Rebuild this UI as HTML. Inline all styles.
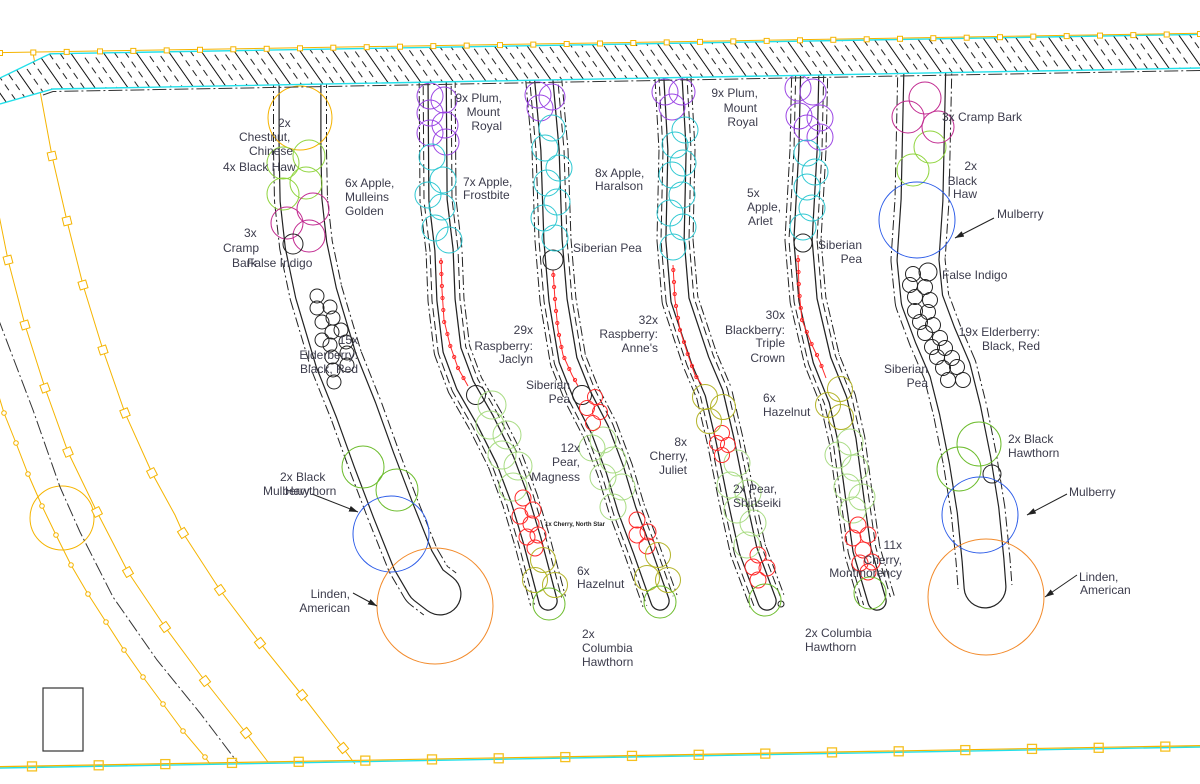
<!DOCTYPE html>
<html><head><meta charset="utf-8">
<style>
html,body{margin:0;padding:0;background:#fff;}
svg{display:block;}
text{font-family:"Liberation Sans",sans-serif;font-size:12px;fill:#3c3c4c;}
</style></head><body>
<svg width="1200" height="784" viewBox="0 0 1200 784" xmlns="http://www.w3.org/2000/svg">
<defs>
<pattern id="hatch" width="27" height="24" patternUnits="userSpaceOnUse" patternTransform="rotate(-35)">
<line x1="0.5" y1="0" x2="0.5" y2="24" stroke="#111" stroke-width="1"/>
<line x1="9.5" y1="0" x2="9.5" y2="24" stroke="#222" stroke-width="1" stroke-dasharray="7 5"/>
<line x1="18.5" y1="6" x2="18.5" y2="30" stroke="#222" stroke-width="1" stroke-dasharray="7 5"/>
<line x1="18.5" y1="-18" x2="18.5" y2="6" stroke="#222" stroke-width="1" stroke-dasharray="7 5"/>
</pattern>
<marker id="ah" markerWidth="9" markerHeight="6" refX="9" refY="3" orient="auto" markerUnits="userSpaceOnUse"><path d="M0,0 L9,3 L0,6 z" fill="#222"/></marker>
<clipPath id="below"><polygon points="0,104 53,89 1200,68 1200,784 0,784"/></clipPath>
<path id="b1" d="M300,60 L300,150 L301,200 L306,245 L316,293 L336,360 L356,410 L374,460 L393,510 L413,560 L427,584 L440,594"/>
<path id="b2" d="M437,60 L438,200 L444,250 L446,300 L452,350 L465,385 L485,420 L505,460 L520,500 L532,540 L548,601"/>
<path id="b3" d="M542,60 L550,150 L553,240 L558,300 L568,360 L582,395 L600,430 L615,470 L627,510 L642,550 L660,601"/>
<path id="b4" d="M672,60 L677,150 L675,240 L680,300 L700,360 L714,393 L725,440 L737,500 L748,550 L767,601"/>
<path id="b5" d="M810,60 L808,150 L803,240 L808,300 L822,360 L838,400 L847,440 L855,500 L862,550 L877,601"/>
<path id="b6" d="M925,60 L922,200 L918,260 L922,300 L935,335 L950,370 L960,410 L970,460 L978,510 L983,560 L985,587"/>
</defs>
<rect width="1200" height="784" fill="#fff"/>

<!-- left yellow lines -->
<g fill="none" stroke="#f5b400" stroke-width="1">
<path d="M33,53 L52,156 L67,221 L83,285 L103,350 L125,413 L152,473 L175,515 L183,533 L220,590 L260,643 L302,695 L343,748 L355,764"/>
<path d="M-5,195 L8,260 L25,325 L45,388 L68,452 L97,512 L128,572 L165,627 L205,681 L246,733 L268,762"/>
<path d="M-3,390 L4,413 L16,443 L28,474 L42,506 L56,535 L71,565 L88,594 L106,622 L124,650 L143,677 L163,704 L183,731 L205,757 L210,764"/>
<circle cx="62" cy="518" r="32"/>
</g>
<path d="M-2,318 L33,410 L60,487 L80,532 L113,597 L157,660 L200,713 L238,763" fill="none" stroke="#333" stroke-width="1" stroke-dasharray="14 3 2 3"/>
<g fill="#fff" stroke="#f5b400" stroke-width="1">
<rect x="48" y="152" width="8" height="8" transform="rotate(77 52 156)"/>
<rect x="63" y="217" width="8" height="8" transform="rotate(76 67 221)"/>
<rect x="79" y="281" width="8" height="8" transform="rotate(73 83 285)"/>
<rect x="99" y="346" width="8" height="8" transform="rotate(72 103 350)"/>
<rect x="121" y="409" width="8" height="8" transform="rotate(68 125 413)"/>
<rect x="148" y="469" width="8" height="8" transform="rotate(63 152 473)"/>
<rect x="179" y="529" width="8" height="8" transform="rotate(58 183 533)"/>
<rect x="216" y="586" width="8" height="8" transform="rotate(55 220 590)"/>
<rect x="256" y="639" width="8" height="8" transform="rotate(52 260 643)"/>
<rect x="298" y="691" width="8" height="8" transform="rotate(51 302 695)"/>
<rect x="339" y="744" width="8" height="8" transform="rotate(51 343 748)"/>
<rect x="4" y="256" width="8" height="8" transform="rotate(75 8 260)"/>
<rect x="21" y="321" width="8" height="8" transform="rotate(73 25 325)"/>
<rect x="41" y="384" width="8" height="8" transform="rotate(70 45 388)"/>
<rect x="64" y="448" width="8" height="8" transform="rotate(67 68 452)"/>
<rect x="93" y="508" width="8" height="8" transform="rotate(63 97 512)"/>
<rect x="124" y="568" width="8" height="8" transform="rotate(60 128 572)"/>
<rect x="161" y="623" width="8" height="8" transform="rotate(55 165 627)"/>
<rect x="201" y="677" width="8" height="8" transform="rotate(53 205 681)"/>
<rect x="242" y="729" width="8" height="8" transform="rotate(52 246 733)"/>
<circle cx="4" cy="413" r="2.3"/><circle cx="16" cy="443" r="2.3"/><circle cx="28" cy="474" r="2.3"/><circle cx="42" cy="506" r="2.3"/><circle cx="56" cy="535" r="2.3"/><circle cx="71" cy="565" r="2.3"/><circle cx="88" cy="594" r="2.3"/><circle cx="106" cy="622" r="2.3"/><circle cx="124" cy="650" r="2.3"/><circle cx="143" cy="677" r="2.3"/><circle cx="163" cy="704" r="2.3"/><circle cx="183" cy="731" r="2.3"/><circle cx="205" cy="757" r="2.3"/>
</g>
<rect x="43" y="688" width="40" height="63" fill="none" stroke="#333" stroke-width="1.2"/>

<!-- beds -->
<g clip-path="url(#below)" fill="none" stroke-linejoin="round">
<use href="#b1" stroke="#222" stroke-width="54" stroke-dasharray="10 3 2 3"/>
<use href="#b1" stroke="#fff" stroke-width="52" stroke-linecap="round"/>
<use href="#b1" stroke="#222" stroke-width="43" stroke-linecap="round"/>
<use href="#b1" stroke="#fff" stroke-width="40.6" stroke-linecap="round"/>
<use href="#b6" stroke="#222" stroke-width="55" stroke-dasharray="10 3 2 3"/>
<use href="#b6" stroke="#fff" stroke-width="53" stroke-linecap="round"/>
<use href="#b6" stroke="#222" stroke-width="43" stroke-linecap="round"/>
<use href="#b6" stroke="#fff" stroke-width="40.6" stroke-linecap="round"/>
<use href="#b2" stroke="#222" stroke-width="37" stroke-dasharray="10 3 2 3"/>
<use href="#b2" stroke="#fff" stroke-width="35" stroke-linecap="round"/>
<use href="#b2" stroke="#222" stroke-width="29" stroke-dasharray="9 4"/>
<use href="#b2" stroke="#fff" stroke-width="27" stroke-linecap="round"/>
<use href="#b2" stroke="#222" stroke-width="19.5" stroke-linecap="round"/>
<use href="#b2" stroke="#fff" stroke-width="17" stroke-linecap="round"/>
<use href="#b3" stroke="#222" stroke-width="37" stroke-dasharray="10 3 2 3"/>
<use href="#b3" stroke="#fff" stroke-width="35" stroke-linecap="round"/>
<use href="#b3" stroke="#222" stroke-width="29" stroke-dasharray="9 4"/>
<use href="#b3" stroke="#fff" stroke-width="27" stroke-linecap="round"/>
<use href="#b3" stroke="#222" stroke-width="19.5" stroke-linecap="round"/>
<use href="#b3" stroke="#fff" stroke-width="17" stroke-linecap="round"/>
<use href="#b4" stroke="#222" stroke-width="37" stroke-dasharray="10 3 2 3"/>
<use href="#b4" stroke="#fff" stroke-width="35" stroke-linecap="round"/>
<use href="#b4" stroke="#222" stroke-width="29" stroke-dasharray="9 4"/>
<use href="#b4" stroke="#fff" stroke-width="27" stroke-linecap="round"/>
<use href="#b4" stroke="#222" stroke-width="19.5" stroke-linecap="round"/>
<use href="#b4" stroke="#fff" stroke-width="17" stroke-linecap="round"/>
<use href="#b5" stroke="#222" stroke-width="37" stroke-dasharray="10 3 2 3"/>
<use href="#b5" stroke="#fff" stroke-width="35" stroke-linecap="round"/>
<use href="#b5" stroke="#222" stroke-width="29" stroke-dasharray="9 4"/>
<use href="#b5" stroke="#fff" stroke-width="27" stroke-linecap="round"/>
<use href="#b5" stroke="#222" stroke-width="19.5" stroke-linecap="round"/>
<use href="#b5" stroke="#fff" stroke-width="17" stroke-linecap="round"/>
</g>

<!-- raspberry / blackberry red lines -->
<g fill="none" stroke="#ff2a2a" stroke-width="1">
<path d="M441,258 L442,290 L444,320 L450,345 L458,368 L468,386"/>
<path d="M553,270 L555,300 L558,330 L563,355 L572,375 L578,386"/>
<path d="M673,265 L675,300 L680,330 L688,355 L695,375 L702,385"/>
<path d="M798,255 L799,290 L802,320 L812,345 L820,362 L826,378"/>
<circle cx="441" cy="262" r="1.6"/><circle cx="441.4" cy="274" r="1.6"/><circle cx="441.9" cy="286" r="1.6"/><circle cx="442.5" cy="298" r="1.6"/><circle cx="443.3" cy="310" r="1.6"/><circle cx="444.2" cy="322" r="1.6"/><circle cx="447.4" cy="334" r="1.6"/><circle cx="450.3" cy="346" r="1.6"/><circle cx="454.2" cy="357" r="1.6"/><circle cx="458" cy="368" r="1.6"/><circle cx="463.5" cy="378" r="1.6"/>
<circle cx="553.3" cy="275" r="1.6"/><circle cx="554.1" cy="287" r="1.6"/><circle cx="555" cy="299" r="1.6"/><circle cx="556" cy="311" r="1.6"/><circle cx="557.3" cy="323" r="1.6"/><circle cx="559" cy="335" r="1.6"/><circle cx="561.4" cy="347" r="1.6"/><circle cx="564.4" cy="358" r="1.6"/><circle cx="569.3" cy="369" r="1.6"/><circle cx="575" cy="380" r="1.6"/>
<circle cx="673.3" cy="270" r="1.6"/><circle cx="674" cy="282" r="1.6"/><circle cx="674.7" cy="294" r="1.6"/><circle cx="676" cy="306" r="1.6"/><circle cx="678" cy="318" r="1.6"/><circle cx="680" cy="330" r="1.6"/><circle cx="684" cy="342" r="1.6"/><circle cx="687.7" cy="354" r="1.6"/><circle cx="692" cy="366" r="1.6"/><circle cx="696.4" cy="377" r="1.6"/>
<circle cx="798.1" cy="260" r="1.6"/><circle cx="798.5" cy="272" r="1.6"/><circle cx="798.8" cy="284" r="1.6"/><circle cx="799.6" cy="296" r="1.6"/><circle cx="800.8" cy="308" r="1.6"/><circle cx="802" cy="320" r="1.6"/><circle cx="806.8" cy="332" r="1.6"/><circle cx="811.6" cy="344" r="1.6"/><circle cx="817" cy="355" r="1.6"/><circle cx="821.5" cy="366" r="1.6"/>
</g>

<!-- plant circles -->
<g fill="none" stroke-width="1">
<circle cx="300" cy="118" r="32" stroke="#f5b300"/>
<g stroke="#8fd43c">
<circle cx="309" cy="156" r="16"/><circle cx="283" cy="163" r="16"/><circle cx="306" cy="183" r="16"/><circle cx="283" cy="194" r="16"/>
<circle cx="930" cy="147" r="16"/><circle cx="913" cy="170" r="16"/>
</g>
<g stroke="#c1288f">
<circle cx="313" cy="209" r="16"/><circle cx="287" cy="223" r="16"/><circle cx="309" cy="236" r="16"/>
<circle cx="925" cy="98" r="16"/><circle cx="908" cy="117" r="16"/><circle cx="938" cy="127" r="16"/>
</g>
<g stroke="#222">
<circle cx="293" cy="244" r="10"/>
<circle cx="476" cy="395" r="9.5"/><circle cx="553" cy="260" r="10"/><circle cx="582" cy="395" r="9.5"/><circle cx="803" cy="243" r="9"/><circle cx="992" cy="474" r="9"/><circle cx="781" cy="604" r="3"/>
<circle cx="317" cy="296" r="7"/><circle cx="330" cy="307" r="7"/><circle cx="317" cy="308" r="7"/><circle cx="333" cy="318" r="7"/><circle cx="322" cy="322" r="7"/><circle cx="341" cy="330" r="7"/><circle cx="332" cy="332" r="7"/><circle cx="330" cy="345" r="7"/><circle cx="346" cy="342" r="7"/><circle cx="347" cy="353" r="7"/><circle cx="332" cy="357" r="7"/><circle cx="347" cy="365" r="7"/><circle cx="333" cy="370" r="7"/><circle cx="334" cy="382" r="7"/><circle cx="322" cy="340" r="7"/>
<circle cx="928" cy="272" r="9"/><circle cx="913" cy="274" r="7.5"/><circle cx="910" cy="285" r="7.5"/><circle cx="925" cy="287" r="7.5"/><circle cx="915" cy="297" r="7.5"/><circle cx="930" cy="300" r="7.5"/><circle cx="915" cy="311" r="7.5"/><circle cx="928" cy="312" r="7.5"/><circle cx="920" cy="322" r="7.5"/><circle cx="933" cy="325" r="7.5"/><circle cx="925" cy="333" r="7.5"/><circle cx="940" cy="338" r="7.5"/><circle cx="932" cy="347" r="7.5"/><circle cx="945" cy="348" r="7.5"/><circle cx="937" cy="357" r="7.5"/><circle cx="952" cy="358" r="7.5"/><circle cx="943" cy="368" r="7.5"/><circle cx="957" cy="367" r="7.5"/><circle cx="948" cy="380" r="7.5"/><circle cx="963" cy="380" r="7.5"/>
</g>
<g stroke="#9b45e4">
<circle cx="430" cy="96" r="13"/><circle cx="444" cy="100" r="13"/><circle cx="430" cy="113" r="13"/><circle cx="445" cy="125" r="13"/><circle cx="430" cy="133" r="13"/><circle cx="446" cy="142" r="13"/>
<circle cx="538" cy="95" r="13"/><circle cx="552" cy="97" r="13"/><circle cx="540" cy="108" r="13"/>
<circle cx="665" cy="92" r="13"/><circle cx="682" cy="92" r="13"/><circle cx="672" cy="107" r="13"/>
<circle cx="798" cy="88" r="13"/><circle cx="813" cy="92" r="13"/><circle cx="799" cy="116" r="13"/><circle cx="820" cy="118" r="13"/><circle cx="807" cy="128" r="13"/><circle cx="820" cy="137" r="13"/>
</g>
<g stroke="#2ec8d2">
<circle cx="432" cy="157" r="13"/><circle cx="443" cy="180" r="13"/><circle cx="428" cy="195" r="13"/><circle cx="442" cy="207" r="13"/><circle cx="435" cy="228" r="13"/><circle cx="449" cy="240" r="13"/>
<circle cx="552" cy="128" r="13"/><circle cx="545" cy="148" r="13"/><circle cx="559" cy="168" r="13"/><circle cx="547" cy="183" r="13"/><circle cx="557" cy="202" r="13"/><circle cx="544" cy="218" r="13"/><circle cx="555" cy="238" r="13"/>
<circle cx="685" cy="130" r="13"/><circle cx="675" cy="145" r="13"/><circle cx="683" cy="163" r="13"/><circle cx="672" cy="175" r="13"/><circle cx="682" cy="195" r="13"/><circle cx="670" cy="213" r="13"/><circle cx="683" cy="227" r="13"/><circle cx="673" cy="247" r="13"/>
<circle cx="807" cy="153" r="13"/><circle cx="815" cy="172" r="13"/><circle cx="807" cy="187" r="13"/><circle cx="812" cy="208" r="13"/><circle cx="803" cy="227" r="13"/>
</g>
<g stroke="#a9dc84">
<circle cx="492" cy="405" r="14"/><circle cx="490" cy="425" r="14"/><circle cx="507" cy="435" r="14"/><circle cx="502" cy="455" r="14"/><circle cx="518" cy="466" r="14"/><circle cx="513" cy="487" r="14"/>
<circle cx="603" cy="440" r="13"/><circle cx="592" cy="448" r="13"/><circle cx="613" cy="460" r="13"/><circle cx="603" cy="477" r="13"/><circle cx="622" cy="487" r="13"/><circle cx="613" cy="507" r="13"/>
<circle cx="737" cy="463" r="13"/><circle cx="730" cy="485" r="13"/><circle cx="748" cy="493" r="13"/><circle cx="737" cy="510" r="13"/><circle cx="753" cy="523" r="13"/><circle cx="747" cy="545" r="13"/>
<circle cx="850" cy="442" r="13"/><circle cx="838" cy="455" r="13"/><circle cx="855" cy="468" r="13"/><circle cx="847" cy="487" r="13"/><circle cx="862" cy="497" r="13"/><circle cx="853" cy="510" r="13"/>
</g>
<g stroke="#ff2a2a">
<circle cx="523" cy="498" r="8"/><circle cx="533" cy="510" r="8"/><circle cx="520" cy="516" r="8"/><circle cx="531" cy="524" r="8"/><circle cx="527" cy="537" r="8"/><circle cx="538" cy="535" r="8"/><circle cx="535" cy="548" r="8"/>
<circle cx="595" cy="397" r="7.5"/><circle cx="587" cy="408" r="7.5"/><circle cx="600" cy="412" r="7.5"/><circle cx="593" cy="423" r="7.5"/>
<circle cx="637" cy="520" r="8"/><circle cx="648" cy="532" r="8"/><circle cx="637" cy="535" r="8"/><circle cx="647" cy="546" r="8"/>
<circle cx="722" cy="433" r="7.5"/><circle cx="717" cy="443" r="7.5"/><circle cx="728" cy="445" r="7.5"/><circle cx="722" cy="455" r="7.5"/>
<circle cx="758" cy="555" r="8"/><circle cx="753" cy="567" r="8"/><circle cx="767" cy="568" r="8"/><circle cx="758" cy="580" r="8"/>
<circle cx="858" cy="525" r="8"/><circle cx="853" cy="538" r="8"/><circle cx="868" cy="535" r="8"/><circle cx="863" cy="550" r="8"/><circle cx="860" cy="563" r="8"/><circle cx="872" cy="562" r="8"/><circle cx="868" cy="572" r="8"/>
</g>
<g stroke="#b4b42a">
<circle cx="543" cy="560" r="12.5"/><circle cx="535" cy="580" r="12.5"/><circle cx="555" cy="585" r="12.5"/>
<circle cx="658" cy="555" r="12.5"/><circle cx="647" cy="578" r="12.5"/><circle cx="668" cy="580" r="12.5"/>
<circle cx="705" cy="397" r="12.5"/><circle cx="723" cy="407" r="12.5"/><circle cx="709" cy="421" r="12.5"/>
<circle cx="840" cy="389" r="12.5"/><circle cx="828" cy="405" r="12.5"/><circle cx="841" cy="417" r="12.5"/>
</g>
<g stroke="#6cbc2c">
<circle cx="549" cy="604" r="16"/><circle cx="660" cy="602" r="16"/><circle cx="765" cy="600" r="16"/><circle cx="870" cy="593" r="16"/>
<circle cx="363" cy="467" r="21"/><circle cx="397" cy="490" r="21"/>
<circle cx="979" cy="444" r="22"/><circle cx="959" cy="469" r="22"/>
</g>
<g stroke="#2b5be8">
<circle cx="391" cy="534" r="38"/><circle cx="917" cy="220" r="38"/><circle cx="980" cy="515" r="38"/>
</g>
<g stroke="#f28a2a">
<circle cx="435" cy="606" r="58"/><circle cx="986" cy="597" r="58"/>
</g>
</g>

<!-- top band -->
<polygon points="0,78 50,53.8 1200,34 1200,68 53,89 0,104" fill="#fff"/>
<polygon points="0,78 50,53.8 1200,34 1200,68 53,89 0,104" fill="url(#hatch)"/>
<g fill="none" stroke-width="1.4">
<path d="M0,78 L50,53.8 L1200,34.4" stroke="#22e0ea"/>
<path d="M0,104 L53,89 L1200,68" stroke="#22e0ea"/>
<path d="M0,52.6 L1200,33.2" stroke="#f5b400" stroke-width="1"/>
<path d="M0,768 L1200,747" stroke="#22e0ea"/>
<path d="M0,766.6 L1200,745.6" stroke="#f5b400" stroke-width="1.2"/>
</g>
<path d="M43,95 L53,91.5 L1200,70.5" fill="none" stroke="#333" stroke-width="1" stroke-dasharray="14 3 2 3"/>
<g fill="#fff" stroke="#f5b400" stroke-width="1">
<rect x="-2.5" y="50.5" width="5" height="5"/><rect x="30.8" y="50" width="5" height="5"/><rect x="64.2" y="49.4" width="5" height="5"/><rect x="97.5" y="48.9" width="5" height="5"/><rect x="130.8" y="48.4" width="5" height="5"/><rect x="164.2" y="47.9" width="5" height="5"/><rect x="197.5" y="47.3" width="5" height="5"/><rect x="230.8" y="46.8" width="5" height="5"/><rect x="264.2" y="46.3" width="5" height="5"/><rect x="297.5" y="45.8" width="5" height="5"/><rect x="330.8" y="45.2" width="5" height="5"/><rect x="364.2" y="44.7" width="5" height="5"/><rect x="397.5" y="44.2" width="5" height="5"/><rect x="430.8" y="43.6" width="5" height="5"/><rect x="464.2" y="43.1" width="5" height="5"/><rect x="497.5" y="42.6" width="5" height="5"/><rect x="530.8" y="42.1" width="5" height="5"/><rect x="564.2" y="41.5" width="5" height="5"/><rect x="597.5" y="41" width="5" height="5"/><rect x="630.8" y="40.5" width="5" height="5"/><rect x="664.2" y="39.9" width="5" height="5"/><rect x="697.5" y="39.4" width="5" height="5"/><rect x="730.8" y="38.9" width="5" height="5"/><rect x="764.2" y="38.4" width="5" height="5"/><rect x="797.5" y="37.8" width="5" height="5"/><rect x="830.8" y="37.3" width="5" height="5"/><rect x="864.2" y="36.8" width="5" height="5"/><rect x="897.5" y="36.3" width="5" height="5"/><rect x="930.8" y="35.7" width="5" height="5"/><rect x="964.2" y="35.2" width="5" height="5"/><rect x="997.5" y="34.7" width="5" height="5"/><rect x="1030.8" y="34.1" width="5" height="5"/><rect x="1064.2" y="33.6" width="5" height="5"/><rect x="1097.5" y="33.1" width="5" height="5"/><rect x="1130.8" y="32.6" width="5" height="5"/><rect x="1164.2" y="32" width="5" height="5"/><rect x="1197.5" y="31.5" width="5" height="5"/>
</g>
<g fill="none" stroke="#f5c020" stroke-width="1.3">
<rect x="27.5" y="761.9" width="9" height="9"/><rect x="94.2" y="760.8" width="9" height="9"/><rect x="160.8" y="759.6" width="9" height="9"/><rect x="227.5" y="758.4" width="9" height="9"/><rect x="294.2" y="757.3" width="9" height="9"/><rect x="360.8" y="756.1" width="9" height="9"/><rect x="427.5" y="754.9" width="9" height="9"/><rect x="494.2" y="753.8" width="9" height="9"/><rect x="560.8" y="752.6" width="9" height="9"/><rect x="627.5" y="751.4" width="9" height="9"/><rect x="694.2" y="750.3" width="9" height="9"/><rect x="760.8" y="749.1" width="9" height="9"/><rect x="827.5" y="747.9" width="9" height="9"/><rect x="894.2" y="746.8" width="9" height="9"/><rect x="960.8" y="745.6" width="9" height="9"/><rect x="1027.5" y="744.4" width="9" height="9"/><rect x="1094.2" y="743.3" width="9" height="9"/><rect x="1160.8" y="742.1" width="9" height="9"/>
</g>

<!-- arrows -->
<g stroke="#222" stroke-width="1" marker-end="url(#ah)">
<line x1="312" y1="494" x2="358" y2="512"/>
<line x1="353" y1="593" x2="377" y2="606"/>
<line x1="994" y1="218" x2="955" y2="238"/>
<line x1="1067" y1="494" x2="1027" y2="515"/>
<line x1="1077" y1="575" x2="1045" y2="597"/>
</g>

<!-- labels -->
<text x="278" y="127">2x</text>
<text x="239" y="141">Chestnut,</text>
<text x="249" y="155">Chinese</text>
<text x="223" y="171">4x Black Haw</text>
<text x="244" y="237">3x</text>
<text x="223" y="252">Cramp</text>
<text x="232" y="267">Bark</text>
<text x="247" y="267">False Indigo</text>
<text x="345" y="187">6x Apple,</text>
<text x="345" y="201">Mulleins</text>
<text x="345" y="215">Golden</text>
<g text-anchor="end">
<text x="358" y="344">15x</text>
<text x="358" y="359">Elderberry:</text>
<text x="358" y="373">Black, Red</text>
<text x="350" y="598">Linden,</text>
<text x="350" y="612">American</text>
<text x="502" y="102">9x Plum,</text>
<text x="500" y="116">Mount</text>
<text x="502" y="130">Royal</text>
<text x="758" y="97">9x Plum,</text>
<text x="757" y="112">Mount</text>
<text x="758" y="126">Royal</text>
<text x="862" y="249">Siberian</text>
<text x="862" y="263">Pea</text>
<text x="977" y="170">2x</text>
<text x="977" y="185">Black</text>
<text x="977" y="198">Haw</text>
<text x="1040" y="336">19x Elderberry:</text>
<text x="1040" y="350">Black, Red</text>
<text x="928" y="373">Siberian</text>
<text x="928" y="387">Pea</text>
<text x="533" y="334">29x</text>
<text x="533" y="350">Raspberry:</text>
<text x="533" y="363">Jaclyn</text>
<text x="658" y="324">32x</text>
<text x="658" y="338">Raspberry:</text>
<text x="658" y="352">Anne's</text>
<text x="785" y="319">30x</text>
<text x="785" y="334">Blackberry:</text>
<text x="785" y="347">Triple</text>
<text x="785" y="362">Crown</text>
<text x="570" y="389">Siberian</text>
<text x="570" y="403">Pea</text>
<text x="580" y="452">12x</text>
<text x="580" y="466">Pear,</text>
<text x="580" y="481">Magness</text>
<text x="687" y="446">8x</text>
<text x="688" y="460">Cherry,</text>
<text x="687" y="474">Juliet</text>
<text x="902" y="549">11x</text>
<text x="902" y="564">Cherry,</text>
<text x="902" y="577">Montmorency</text>
</g>
<text x="280" y="481">2x Black</text>
<text x="263" y="495">Mulberry</text>
<text x="285" y="495">Hawthorn</text>
<text x="463" y="186">7x Apple,</text>
<text x="463" y="199">Frostbite</text>
<text x="595" y="177">8x Apple,</text>
<text x="595" y="190">Haralson</text>
<text x="573" y="252">Siberian Pea</text>
<text x="747" y="197">5x</text>
<text x="747" y="211">Apple,</text>
<text x="748" y="225">Arlet</text>
<text x="942" y="121">3x Cramp Bark</text>
<text x="997" y="218">Mulberry</text>
<text x="942" y="279">False Indigo</text>
<text x="1008" y="443">2x Black</text>
<text x="1008" y="457">Hawthorn</text>
<text x="1069" y="496">Mulberry</text>
<text x="1079" y="581">Linden,</text>
<text x="1080" y="594">American</text>
<text x="763" y="402">6x</text>
<text x="763" y="416">Hazelnut</text>
<text x="733" y="493">2x Pear,</text>
<text x="733" y="507">Shinseiki</text>
<text x="545" y="526" style="font-size:6px;font-weight:bold;fill:#222">1x Cherry, North Star</text>
<text x="577" y="575">6x</text>
<text x="577" y="588">Hazelnut</text>
<text x="582" y="638">2x</text>
<text x="582" y="652">Columbia</text>
<text x="582" y="666">Hawthorn</text>
<text x="805" y="637">2x Columbia</text>
<text x="805" y="651">Hawthorn</text>
</svg>
</body></html>
